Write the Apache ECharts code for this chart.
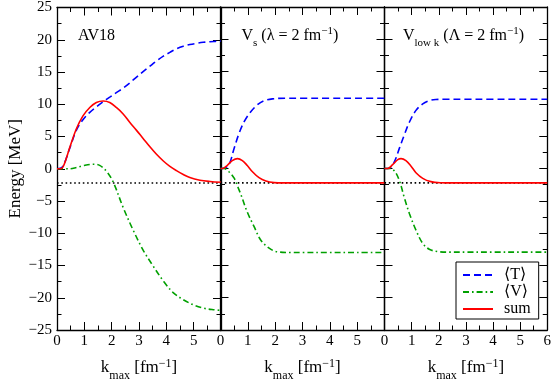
<!DOCTYPE html>
<html><head><meta charset="utf-8">
<script src="https://cdn.jsdelivr.net/npm/echarts@6/dist/echarts.min.js"></script>
<style>html,body{margin:0;padding:0;background:#fff}#c{width:554px;height:387px}</style>
</head><body><div id="c"></div>
<script>
// ---------- data ----------
const xMin = 0, xMax = 6, xStep = 1;
const yMin = -25, yMax = 25, yStep = 5;
const panelTitles = [
  '{m|AV18}',
  '{m|V}{sub|s}{m| (λ = 2 fm}{sup|−1}{m|)}',
  '{m|V}{sub|low k}{m| (Λ = 2 fm}{sup|−1}{m|)}'
];
const seriesNames = ['⟨T⟩', '⟨V⟩', 'sum'];
const deuteronE = -2.22;

// AV18
const av18T_k = [0, 0.2, 0.46, 0.71, 0.95, 1.2, 1.44, 1.69, 1.93, 2.17, 2.42, 2.66, 2.91, 3.15, 3.4, 3.64, 3.89, 4.13, 4.37, 4.62, 4.86, 5.11, 5.35, 5.6, 5.8, 6.0];
const av18T_e = [0, 0.3, 3.1, 6.0, 7.6, 8.75, 9.6, 10.4, 11.1, 11.8, 12.5, 13.3, 14.2, 15.05, 15.9, 16.7, 17.45, 18.05, 18.6, 19.0, 19.25, 19.45, 19.6, 19.7, 19.75, 19.8];
const av18V_k = [0, 0.46, 0.71, 0.95, 1.32, 1.56, 1.81, 2.05, 2.42, 2.79, 3.15, 3.52, 3.89, 4.25, 4.62, 4.99, 5.35, 5.72, 6.0];
const av18V_e = [0, 0, 0.2, 0.47, 0.7, 0.52, -0.4, -2.0, -6.0, -9.55, -12.6, -15.1, -17.4, -19.2, -20.3, -21.1, -21.6, -21.85, -21.95];
const av18S_k = [0, 0.16, 0.28, 0.46, 0.71, 0.95, 1.2, 1.44, 1.69, 1.93, 2.17, 2.42, 2.66, 2.91, 3.15, 3.4, 3.64, 3.89, 4.13, 4.37, 4.62, 4.86, 5.23, 5.6, 6.0];
const av18S_e = [0, 0.05, 0.87, 3.2, 6.2, 8.2, 9.5, 10.27, 10.5, 10.27, 9.5, 8.5, 7.2, 5.95, 4.7, 3.4, 2.24, 1.2, 0.36, -0.3, -0.9, -1.37, -1.77, -1.97, -2.1];

// Vs (lambda = 2 fm^-1)
const vsT_k = [0, 0.13, 0.31, 0.5, 0.68, 0.86, 1.1, 1.35, 1.6, 1.9, 2.39, 3, 4, 5, 6];
const vsT_e = [0, 0.05, 0.6, 3.15, 5.45, 7.2, 8.75, 9.86, 10.5, 10.78, 10.88, 10.88, 10.88, 10.88, 10.88];
const vsV_k = [0, 0.13, 0.31, 0.5, 0.62, 0.74, 0.98, 1.23, 1.47, 1.78, 2.08, 2.6, 3, 4, 5, 6];
const vsV_e = [0, 0, -0.5, -1.5, -2.7, -3.96, -6.75, -9.0, -11.07, -12.34, -12.9, -13.0, -13.0, -13.0, -13.0, -13.0];
const vsS_k = [0, 0.07, 0.25, 0.43, 0.62, 0.8, 0.98, 1.17, 1.41, 1.66, 1.96, 2.3, 3, 4, 5, 6];
const vsS_e = [0, 0, 0.5, 1.22, 1.53, 1.22, 0.46, -0.5, -1.42, -1.93, -2.18, -2.23, -2.23, -2.23, -2.23, -2.23];

// Vlow k (Lambda = 2 fm^-1)
const vlkT_k = [0, 0.18, 0.37, 0.55, 0.73, 0.92, 1.16, 1.41, 1.65, 1.89, 2.3, 3, 4, 5, 6];
const vlkT_e = [0, 0.05, 1.1, 3.15, 5.2, 7.2, 9.0, 10.0, 10.5, 10.68, 10.73, 10.73, 10.73, 10.73, 10.73];
const vlkV_k = [0, 0.18, 0.37, 0.55, 0.73, 0.92, 1.16, 1.41, 1.65, 1.95, 2.4, 3, 4, 5, 6];
const vlkV_e = [0, 0, -0.4, -1.9, -4.5, -7.0, -9.55, -11.6, -12.5, -12.85, -12.95, -12.95, -12.95, -12.95, -12.95];
const vlkS_k = [0, 0.12, 0.3, 0.49, 0.61, 0.79, 0.98, 1.16, 1.41, 1.71, 2.08, 2.5, 3, 4, 5, 6];
const vlkS_e = [0, 0, 0.6, 1.37, 1.53, 1.22, 0.36, -0.65, -1.52, -2.03, -2.2, -2.23, -2.23, -2.23, -2.23, -2.23];

// ---------- chart ----------
const FONT = '"Liberation Serif", "DejaVu Serif", serif';
const panels = [
  {T: [av18T_k, av18T_e], V: [av18V_k, av18V_e], S: [av18S_k, av18S_e]},
  {T: [vsT_k, vsT_e], V: [vsV_k, vsV_e], S: [vsS_k, vsS_e]},
  {T: [vlkT_k, vlkT_e], V: [vlkV_k, vlkV_e], S: [vlkS_k, vlkS_e]}
];
const gridLeft = [57, 220.5, 384.5];
const gridW = 164, gridTop = 7, gridH = 328;
const AX = '#000';
const minus = v => String(v).replace('-', '−');

const richTitle = () => ({
  m: {fontFamily: FONT, fontSize: 16, fontWeight: 'normal', lineHeight: 26, color: '#000'},
  sub: {fontFamily: FONT, fontSize: 11, fontWeight: 'normal', lineHeight: 11, verticalAlign: 'bottom', color: '#000'},
  sup: {fontFamily: FONT, fontSize: 11, fontWeight: 'normal', lineHeight: 11, verticalAlign: 'top', padding: [3, 0, 0, 0], color: '#000'}
});
const richX = () => ({
  m: {fontFamily: FONT, fontSize: 17, fontWeight: 'normal', lineHeight: 28, color: '#000'},
  sub: {fontFamily: FONT, fontSize: 12, fontWeight: 'normal', lineHeight: 12, verticalAlign: 'bottom', color: '#000'},
  sup: {fontFamily: FONT, fontSize: 12, fontWeight: 'normal', lineHeight: 12, verticalAlign: 'top', padding: [4, 0, 0, 0], color: '#000'}
});
const tick = () => ({show: true, inside: true, length: 8, lineStyle: {color: AX, width: 1}});
const minor = () => ({show: true, splitNumber: 2, length: 4.5, lineStyle: {color: AX, width: 1}});
const aline = () => ({show: true, onZero: false, lineStyle: {color: AX, width: 1.3}});

const grids = [], xAxes = [], yAxes = [], series = [];

panels.forEach((p, i) => {
  grids.push({left: gridLeft[i], top: gridTop, width: gridW, height: gridH});
  xAxes.push({
    type: 'value', gridIndex: i, position: 'bottom', min: xMin, max: xMax, interval: xStep,
    axisLine: aline(), axisTick: tick(), minorTick: minor(), splitLine: {show: false},
    axisLabel: {show: true, margin: 4, fontFamily: FONT, fontSize: 15, color: '#000',
      showMaxLabel: i === 2, showMinLabel: true},
    name: '{m|k}{sub|max}{m| [fm}{sup|−1}{m|]}', nameLocation: 'middle', nameGap: 24,
    nameMoveOverlap: false,
    nameTextStyle: {rich: richX()}
  });
  xAxes.push({
    type: 'value', gridIndex: i, position: 'top', min: xMin, max: xMax, interval: xStep,
    axisLine: aline(), axisTick: tick(), minorTick: minor(), splitLine: {show: false},
    axisLabel: {show: false}
  });
  const yLeft = {
    type: 'value', gridIndex: i, position: 'left', min: yMin, max: yMax, interval: yStep,
    axisLine: aline(), axisTick: tick(), minorTick: minor(), splitLine: {show: false},
    axisLabel: {show: i === 0, margin: 5, fontFamily: FONT, fontSize: 15, color: '#000', formatter: minus}
  };
  if (i === 0) {
    Object.assign(yLeft, {name: 'Energy [MeV]', nameLocation: 'middle', nameGap: 33, nameRotate: 90,
      nameTextStyle: {fontFamily: FONT, fontSize: 17, color: '#000'}});
  }
  yAxes.push(yLeft);
  yAxes.push({
    type: 'value', gridIndex: i, position: 'right', min: yMin, max: yMax, interval: yStep,
    axisLine: aline(), axisTick: tick(), minorTick: minor(), splitLine: {show: false},
    axisLabel: {show: false}
  });
  const base = () => ({type: 'line', xAxisIndex: 2 * i, yAxisIndex: 2 * i, symbol: 'none', showSymbol: false,
    silent: true, emphasis: {disabled: true}, animation: false});
  series.push(Object.assign(base(), {
    name: 'bind', data: [[xMin, deuteronE], [xMax, deuteronE]], color: '#000',
    lineStyle: {color: '#000', width: 1.6, type: [1.6, 2.7]}
  }));
  series.push(Object.assign(base(), {
    name: seriesNames[0], data: p.T[0].map((k, j) => [k, p.T[1][j]]), smooth: 0.35, color: '#0000ff',
    lineStyle: {color: '#0000ff', width: 1.6, type: [7, 4]}
  }));
  series.push(Object.assign(base(), {
    name: seriesNames[1], data: p.V[0].map((k, j) => [k, p.V[1][j]]), smooth: 0.35, color: '#00a000',
    lineStyle: {color: '#00a000', width: 1.6, type: [6, 3, 1.6, 3]}
  }));
  series.push(Object.assign(base(), {
    name: seriesNames[2], data: p.S[0].map((k, j) => [k, p.S[1][j]]), smooth: 0.35, color: '#ff0000',
    lineStyle: {color: '#ff0000', width: 1.6, type: 'solid'}
  }));
});

const titleLeft = [78, 241.5, 403];
const titles = panelTitles.map((t, i) => ({
  text: t, left: titleLeft[i], top: 23, padding: 0,
  textStyle: {fontWeight: 'normal', fontFamily: FONT, rich: richTitle()}
}));

const chart = echarts.init(document.getElementById('c'), null, {renderer: 'canvas'});
chart.setOption({
  animation: false,
  backgroundColor: '#fff',
  title: titles,
  grid: grids, xAxis: xAxes, yAxis: yAxes, series: series,
  legend: {
    data: seriesNames, orient: 'vertical', left: 456, top: 262,
    padding: [5, 8, 2, 6], itemGap: 1, itemWidth: 30, itemHeight: 14,
    backgroundColor: '#fff', borderColor: '#000', borderWidth: 1, borderRadius: 0,
    selectedMode: false,
    itemStyle: {opacity: 0},
    textStyle: {fontFamily: FONT, fontSize: 16, lineHeight: 16, color: '#000', padding: [0, 0, 0, 6]}
  }
});
</script></body></html>
